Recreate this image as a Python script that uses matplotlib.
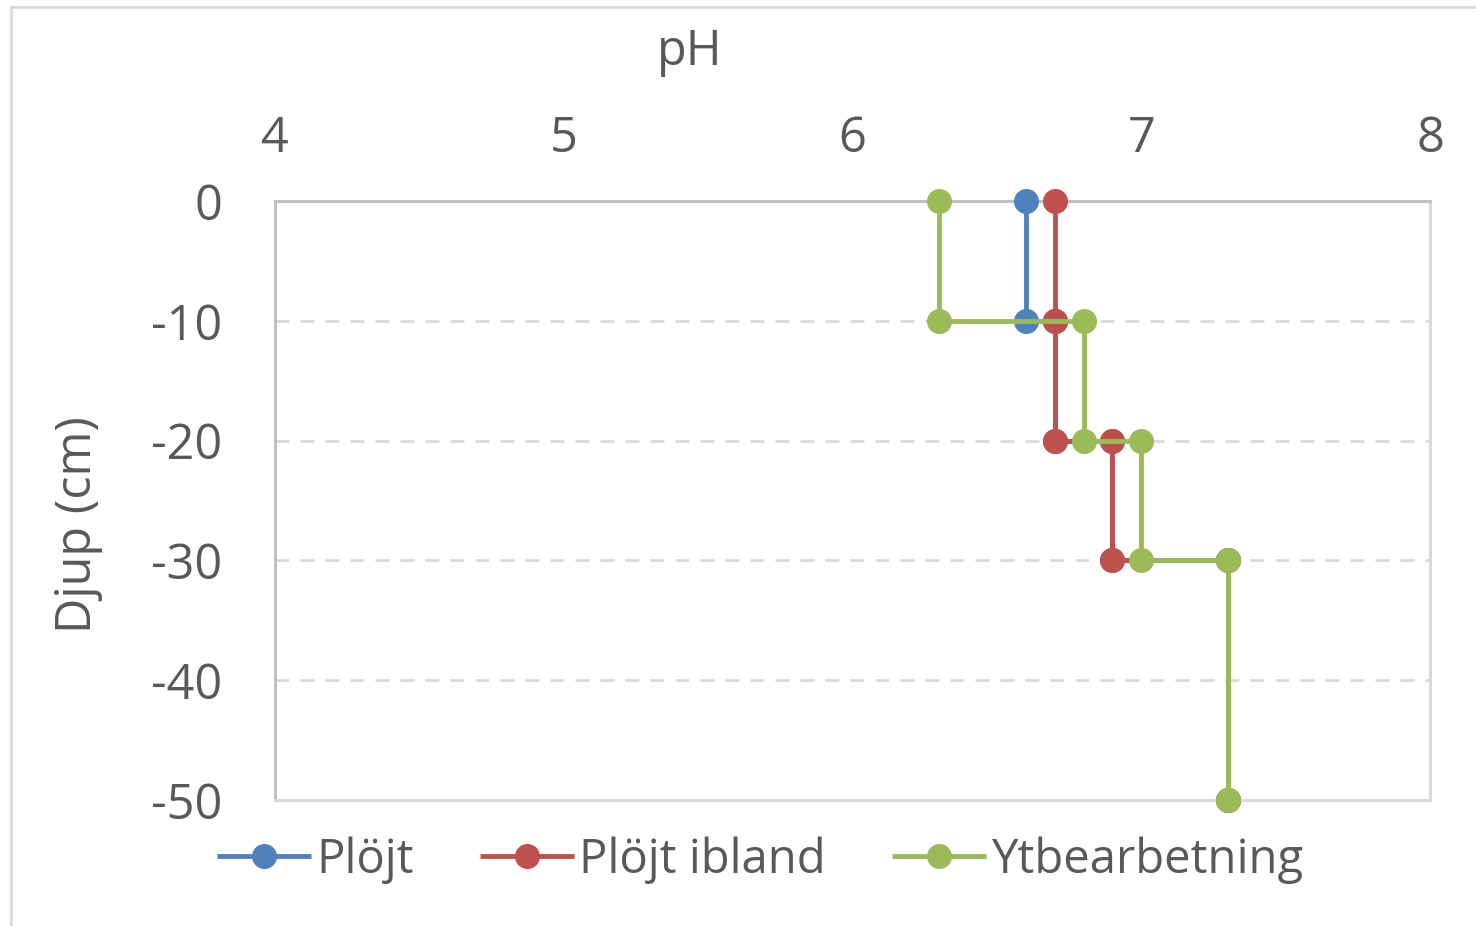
import matplotlib.pyplot as plt
from matplotlib.patches import Rectangle

# pH profile by depth for three tillage systems
depth = [0, -10, -10, -20, -20, -30, -30, -50]
ploejt = [6.6, 6.6, 6.7, 6.7, 6.9, 6.9, 7.3, 7.3]
ploejt_ibland = [6.7, 6.7, 6.7, 6.7, 6.9, 6.9, 7.3, 7.3]
ytbearbetning = [6.3, 6.3, 6.8, 6.8, 7.0, 7.0, 7.3, 7.3]

labels = ["Plöjt", "Plöjt ibland", "Ytbearbetning"]
colors = ["#4F81BD", "#C0504D", "#9BBB59"]

plt.rcParams["font.family"] = ["Open Sans", "DejaVu Sans"]
plt.rcParams["axes.unicode_minus"] = False
W, H = 1476, 926
fig = plt.figure(figsize=(W / 100, H / 100), dpi=100)
ax = fig.add_axes([275 / W, 1 - 800 / H, (1430 - 275) / W, (800 - 201) / H])

for xs, lab, c in zip([ploejt, ploejt_ibland, ytbearbetning], labels, colors):
    ax.plot(xs, depth, color=c, lw=3.5, marker="o", ms=17, label=lab,
            solid_capstyle="butt", clip_on=False, zorder=3)

ax.set_xlim(4, 8)
ax.set_ylim(-50, 0)
ax.set_xticks([4, 5, 6, 7, 8])
ax.set_yticks([0, -10, -20, -30, -40, -50])
ax.xaxis.tick_top()
ax.tick_params(length=0, labelsize=35, colors="#595959")
ax.tick_params(axis="x", pad=27)
ax.tick_params(axis="y", pad=38)
ax.grid(axis="y", color="#d9d9d9", lw=2, ls=(0, (5, 4)))
ax.grid(axis="x", visible=False)
for s in ax.spines.values():
    s.set_color("#d9d9d9")
    s.set_linewidth(2.2)
ax.spines["top"].set_color("#c0c0c0")
ax.spines["left"].set_color("#c0c0c0")

fig.text(690 / W, 1 - 52 / H, "pH", ha="center", va="center", fontsize=35, color="#595959")
fig.text(78 / W, 1 - 525 / H, "Djup (cm)", ha="center", va="center", rotation=90,
         fontsize=35, color="#595959")

leg = fig.legend(loc="center", bbox_to_anchor=(760 / W, 1 - 860 / H), ncol=3,
                 frameon=False, fontsize=34, handlelength=2.0, handletextpad=0.1,
                 columnspacing=1.4, labelcolor="#595959")

fig.patches.append(Rectangle((11 / W, -0.1), 1.2, 1 - 7 / H + 0.1, transform=fig.transFigure,
                             fill=False, edgecolor="#d9d9d9", lw=2))

fig.savefig("out.png", dpi=100)
